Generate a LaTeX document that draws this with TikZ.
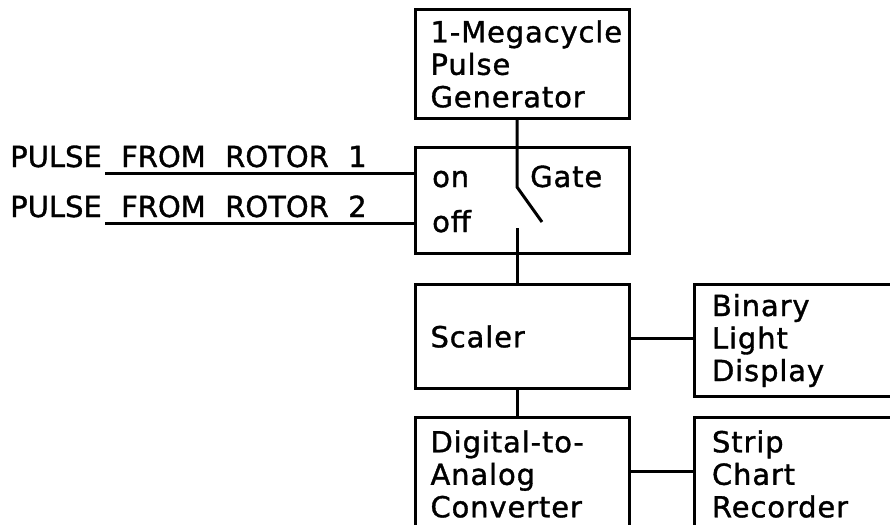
\documentclass[tikz,border=0pt]{standalone}
\usepackage{fontspec}
\setmainfont{DejaVu Sans}[LetterSpace=3, FakeBold=1.2]
\newfontfamily\pulsefont{DejaVu Sans}[WordSpace=2.1, FakeBold=1.2]
\usepackage{tikz}
\usetikzlibrary{positioning}

\begin{document}
\begin{tikzpicture}[x=1pt, y=-1pt, node distance=26.5pt and 61.5pt, every node/.style={font=\fontsize{29}{32.5}\selectfont}, block/.style={draw, line width=3pt, minimum width=214pt, text width=184pt, inner xsep=15pt, align=left}, wide/.style={block, minimum width=230pt, text width=194pt, inner xsep=18pt}, wire/.style={line width=3pt}]
\useasboundingbox (0,0) rectangle (890,524);
\clip (0,0) rectangle (890,524);
\node[block, minimum height=108pt] (gen) at (522.5,64) {\mbox{1-Megacycle}\\Pulse\\Generator};
\node[block, minimum height=106pt, below=of gen] (gate) {};
\node[block, minimum height=104pt, below=28pt of gate] (scaler) {Scaler};
\node[block, minimum height=114pt, below=25.5pt of scaler] (dac) {\mbox{Digital-to-}\\Analog\\Converter};
\node[wide, minimum height=112pt, right=61.5pt of scaler.north east, anchor=north west] (binary) {Binary\\Light\\Display};
\node[wide, minimum height=114pt, right=of dac] (strip) {Strip\\Chart\\Recorder};
% gate labels
\node[anchor=base west, inner sep=0pt] (on) at (432,187) {on};
\node[anchor=base west, inner sep=0pt] (off) at (432,232) {off};
\node[anchor=base west, inner sep=0pt] (gatelbl) at (530,187) {Gate};
\node[anchor=base west, inner sep=0pt, font=\fontsize{29}{32}\pulsefont] (rotor1) at (10,167) {PULSE FROM ROTOR 1};
\node[anchor=base west, inner sep=0pt, font=\fontsize{29}{32}\pulsefont] (rotor2) at (10,217) {PULSE FROM ROTOR 2};
% switch contact
\coordinate (swtop) at (517,187);
\coordinate (swtip) at (542,222);
\coordinate (swbot) at (517,228);
\coordinate (in1) at (105,173);
\coordinate (in2) at (105,223);
\draw[wire] (gen.south -| swtop) -- (swtop) -- (swtip);
\draw[wire] (swbot) -- (scaler.north -| swbot);
\draw[wire] (scaler.south -| swbot) -- (dac.north -| swbot);
\foreach \n in {in1,in2}{\draw[wire] (\n) -- (\n -| gate.west);}
\draw[wire] (scaler.east |- 0,338) -- (binary.west |- 0,338);
\draw[wire] (dac.east |- 0,471) -- (strip.west |- 0,471);
\end{tikzpicture}
\end{document}
